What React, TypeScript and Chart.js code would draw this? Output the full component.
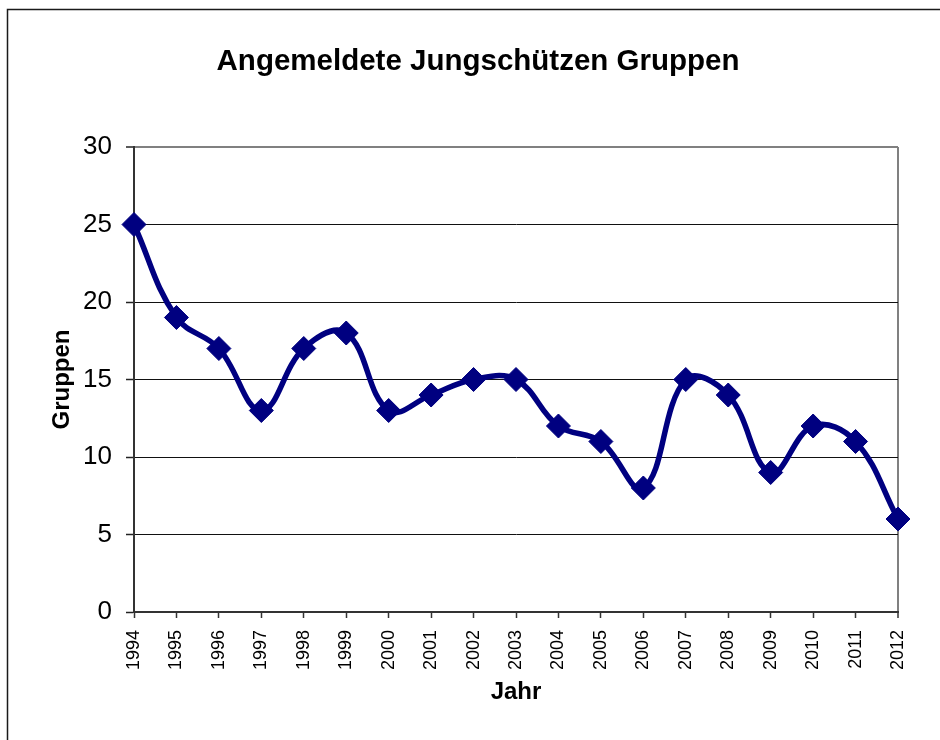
import React, { useEffect, useRef } from "react";
import { Chart, registerables } from "chart.js";

Chart.register(...registerables);

const years = ["1994","1995","1996","1997","1998","1999","2000","2001","2002","2003","2004","2005","2006","2007","2008","2009","2010","2011","2012"];
const groups = [25, 19, 17, 13, 17, 18, 13, 14, 15, 15, 12, 11, 8, 15, 14, 9, 12, 11, 6];
const yMin = 0;
const yMax = 30;
const yStep = 5;
const chartTitle = "Angemeldete Jungschützen Gruppen";
const xTitle = "Jahr";
const yTitle = "Gruppen";

const narrow = "'Liberation Sans Narrow', 'Arial Narrow', 'Liberation Sans', Arial, sans-serif";
const sans = "'Liberation Sans', Arial, sans-serif";

const framePlugin = {
  id: "frame",
  beforeDraw(chart: any) {
    const ctx = chart.ctx;
    ctx.save();
    ctx.fillStyle = "#ffffff";
    ctx.fillRect(0, 0, chart.width, chart.height);
    ctx.strokeStyle = "#1a1a1a";
    ctx.lineWidth = 1.5;
    ctx.strokeRect(7.5, 9.5, 2000, 2000);
    ctx.restore();
  },
};

export default function App() {
  const ref = useRef<HTMLCanvasElement | null>(null);

  useEffect(() => {
    if (!ref.current) return;
    const chart = new Chart(ref.current, {
      type: "line",
      data: {
        labels: years,
        datasets: [
          {
            data: groups,
            borderColor: "#000080",
            backgroundColor: "#000080",
            borderWidth: 5.5,
            tension: 0.4,
            pointStyle: "rectRot",
            pointRadius: 12,
            pointBorderWidth: 1,
            pointBorderColor: "#000080",
            pointBackgroundColor: "#000080",
            clip: false as any,
          },
        ],
      },
      options: {
        responsive: false,
        animation: false,
        devicePixelRatio: 1,
        layout: { padding: { left: 0, right: 0, top: 0, bottom: 0 } },
        plugins: {
          legend: { display: false },
          tooltip: { enabled: false },
          title: {
            display: true,
            text: chartTitle,
            color: "#000",
            font: { family: sans, size: 29.5, weight: "bold", lineHeight: 1.2 },
            padding: { top: 44.3, bottom: 67.3 },
          },
        },
        scales: {
          x: {
            type: "category",
            offset: false,
            afterFit(scale: any) {
              scale.height = 128;
            },
            border: { display: true, color: "#333", width: 2 },
            grid: {
              drawOnChartArea: true,
              drawTicks: true,
              tickLength: 6,
              lineWidth: (c: any) => (c.index === years.length - 1 ? 2 : 1),
              color: (c: any) => (c.index === years.length - 1 ? "#808080" : "rgba(0,0,0,0)"),
              tickColor: "#333",
              tickWidth: 1.5,
            },
            ticks: {
              autoSkip: false,
              minRotation: 90,
              maxRotation: 90,
              padding: 12,
              color: "#000",
              font: { family: narrow, size: 18 },
            },
            title: {
              display: true,
              text: xTitle,
              color: "#000",
              font: { family: sans, size: 24, weight: "bold", lineHeight: 1.2 },
              padding: { top: 0, bottom: 33.6 },
            },
          },
          y: {
            min: yMin,
            max: yMax,
            afterFit(scale: any) {
              scale.width = 134;
            },
            border: { display: true, color: "#333", width: 2 },
            grid: {
              drawTicks: true,
              tickLength: 8,
              color: (c: any) => (c.tick && c.tick.value === yMax ? "#808080" : "#111"),
              lineWidth: (c: any) => (c.tick && c.tick.value === yMax ? 2 : 1),
              tickColor: "#222",
              tickWidth: 1.5,
            },
            ticks: {
              stepSize: yStep,
              padding: 14,
              color: "#000",
              font: { family: narrow, size: 26 },
            },
            title: {
              display: true,
              text: yTitle,
              color: "#000",
              font: { family: sans, size: 24, weight: "bold", lineHeight: 1.2 },
              padding: { top: 47.6, bottom: 0 },
            },
          },
          spacer: {
            type: "linear",
            position: "right",
            display: true,
            afterFit(scale: any) {
              scale.width = 58;
            },
            border: { display: false },
            grid: { display: false, drawOnChartArea: false, drawTicks: false },
            ticks: { display: false },
          },
        },
      },
      plugins: [framePlugin],
    });
    return () => chart.destroy();
  }, []);

  return (
    <div
      style={{
        position: "fixed",
        left: 0,
        top: 0,
        width: 940,
        height: 740,
        overflow: "hidden",
        background: "#fff",
      }}
    >
      <canvas ref={ref} width={956} height={740} style={{ width: 956, height: 740, display: "block" }} />
    </div>
  );
}
